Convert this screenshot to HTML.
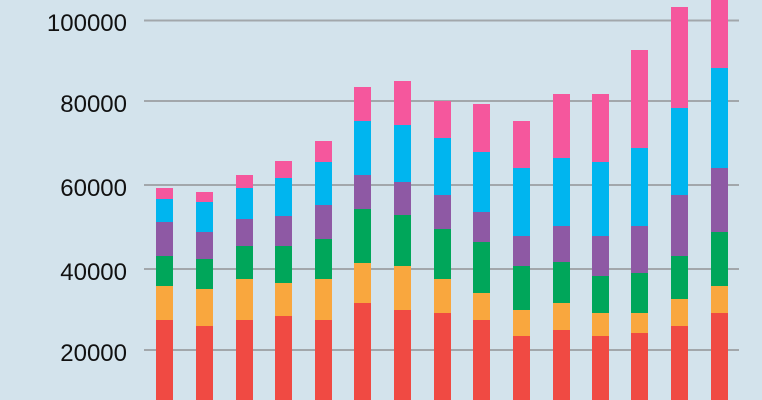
<!DOCTYPE html>
<html><head><meta charset="utf-8"><style>
body{margin:0;background:#d3e3ec;}
svg{display:block}
text{font-family:"Liberation Sans",Arial,sans-serif;font-size:24px;fill:#111;text-anchor:end}
</style></head><body>
<svg width="762" height="400" viewBox="0 0 762 400">
<rect width="762" height="400" fill="#d3e3ec"/>
<g stroke="#a2a7ab" stroke-width="2">
<line x1="144" x2="739" y1="20.5" y2="20.5"/>
<line x1="144" x2="739" y1="101" y2="101"/>
<line x1="144" x2="739" y1="185" y2="185"/>
<line x1="144" x2="739" y1="269" y2="269"/>
<line x1="144" x2="739" y1="350" y2="350"/>
</g>
<text x="127" y="31">100000</text>
<text x="127" y="112">80000</text>
<text x="127" y="196">60000</text>
<text x="127" y="280">40000</text>
<text x="127" y="361">20000</text>
<g id="bars"></g>
</svg>
<script>
var d=[[156,188,199,222,256,286,320],[196,192,202,232,259,289,326],[236,175,188,219,246,279,320],[275,161,178,216,246,283,316],[315,141,162,205,239,279,320],[354,87,121,175,209,263,303],[394,81,125,182,215,266,310],[434,101,138,195,229,279,313],[473,104,152,212,242,293,320],[513,121,168,236,266,310,336],[553,94,158,226,262,303,330],[592,94,162,236,276,313,336],[631,50,148,226,273,313,333],[671,7,108,195,256,299,326],[711,-5,68,168,232,286,313]];
var c=["#f5579d","#00b5ef","#8e59a4","#00a65a","#f9a73e","#f04a43"];
var g=document.getElementById('bars'),s='';
d.forEach(function(b){for(var i=0;i<6;i++){var y=b[i+1],y2=i<5?b[i+2]:400;s+='<rect x="'+b[0]+'" y="'+y+'" width="17" height="'+(y2-y)+'" fill="'+c[i]+'"/>';}});
g.innerHTML=s;
</script>
</body></html>
